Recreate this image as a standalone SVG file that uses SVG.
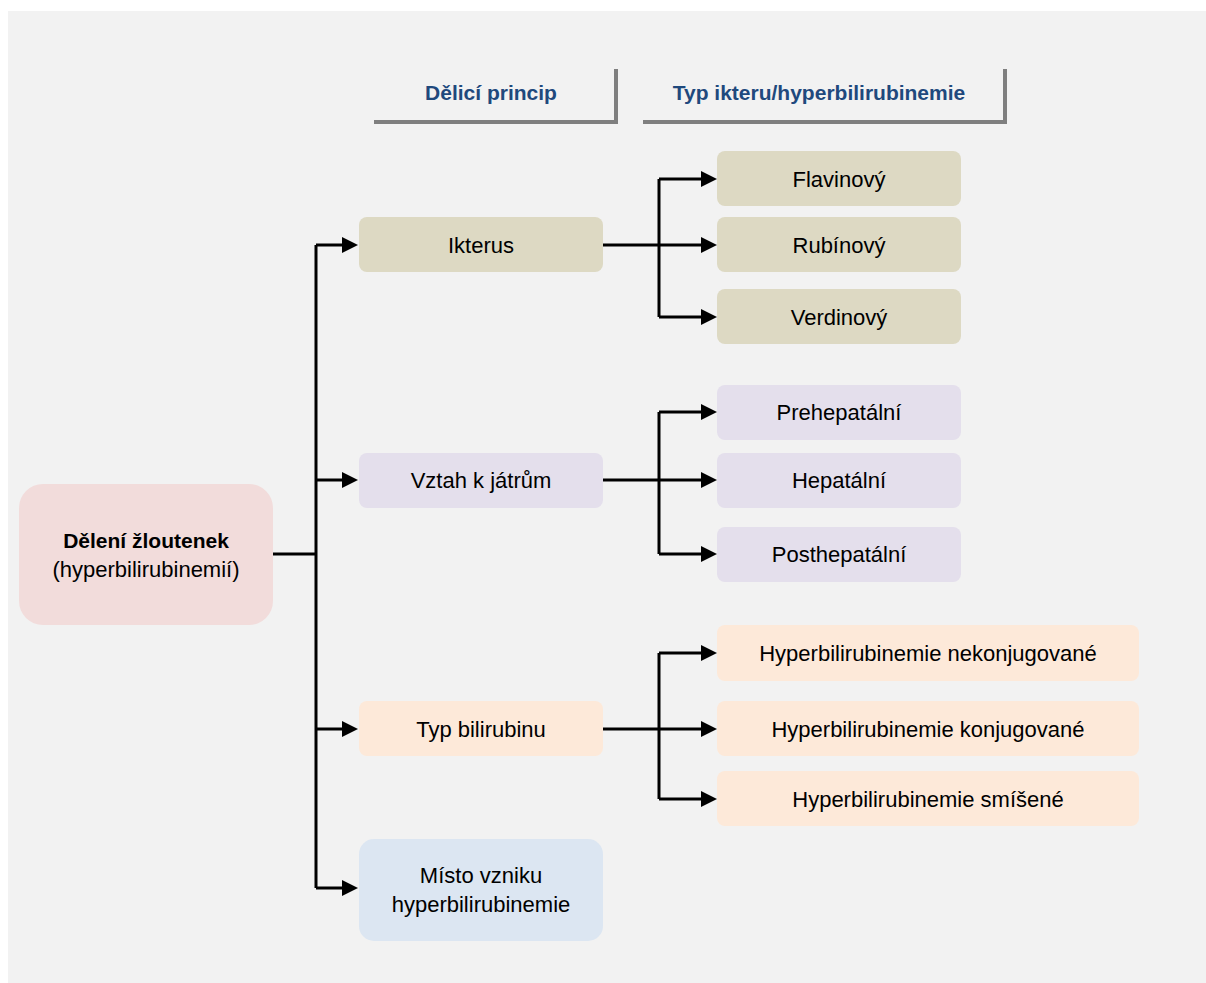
<svg xmlns="http://www.w3.org/2000/svg" width="1206" height="983" viewBox="0 0 1206 983">
<style>
.t{font-family:"Liberation Sans",Arial,sans-serif;font-size:22px;fill:#000;text-anchor:middle}
.b{font-weight:bold;font-size:21px}
.h{font-family:"Liberation Sans",Arial,sans-serif;font-size:21px;font-weight:bold;fill:#1f497d;text-anchor:middle}
.c{fill:none;stroke:#000;stroke-width:3}
.ik{fill:#ddd9c3}.vz{fill:#e4dfec}.ty{fill:#fde9d9}.mi{fill:#dce6f2}.ro{fill:#f2dcdb}
.bar{fill:#7f7f7f}
</style>
<defs>
<marker id="ar" markerUnits="userSpaceOnUse" markerWidth="16" markerHeight="16" refX="1" refY="8" orient="auto">
<path d="M0,0 L16,8 L0,16 z" fill="#000"/>
</marker>
</defs>
<rect x="8" y="11" width="1198" height="972" fill="#f2f2f2"/>
<g id="headers">
<rect class="bar" x="374" y="120" width="244" height="4"/>
<rect class="bar" x="614" y="69" width="4" height="55"/>
<text class="h" x="491" y="100">Dělicí princip</text>
<rect class="bar" x="643" y="120" width="364" height="4"/>
<rect class="bar" x="1003" y="69" width="4" height="55"/>
<text class="h" x="819" y="100">Typ ikteru/hyperbilirubinemie</text>
</g>
<g id="connectors">
<path class="c" d="M273,554 H316"/>
<path class="c" d="M316,245 V888"/>
<path class="c" d="M316,245 H343" marker-end="url(#ar)"/>
<path class="c" d="M316,480 H343" marker-end="url(#ar)"/>
<path class="c" d="M316,729 H343" marker-end="url(#ar)"/>
<path class="c" d="M316,888 H343" marker-end="url(#ar)"/>
<path class="c" d="M603,245 H659"/>
<path class="c" d="M659,179 V317"/>
<path class="c" d="M659,179 H702" marker-end="url(#ar)"/>
<path class="c" d="M659,245 H702" marker-end="url(#ar)"/>
<path class="c" d="M659,317 H702" marker-end="url(#ar)"/>
<path class="c" d="M603,480 H659"/>
<path class="c" d="M659,412 V554"/>
<path class="c" d="M659,412 H702" marker-end="url(#ar)"/>
<path class="c" d="M659,480 H702" marker-end="url(#ar)"/>
<path class="c" d="M659,554 H702" marker-end="url(#ar)"/>
<path class="c" d="M603,729 H659"/>
<path class="c" d="M659,653 V799"/>
<path class="c" d="M659,653 H702" marker-end="url(#ar)"/>
<path class="c" d="M659,729 H702" marker-end="url(#ar)"/>
<path class="c" d="M659,799 H702" marker-end="url(#ar)"/>
</g>
<g id="root">
<rect class="ro" x="19" y="484" width="254" height="141" rx="24"/>
<text class="t b" x="146" y="548">Dělení žloutenek</text>
<text class="t" x="146" y="577">(hyperbilirubinemií)</text>
</g>
<g id="ikterus">
<rect class="ik" x="359" y="217" width="244" height="55" rx="8"/>
<text class="t" x="481" y="253">Ikterus</text>
</g>
<g id="vztah">
<rect class="vz" x="359" y="453" width="244" height="55" rx="8"/>
<text class="t" x="481" y="488">Vztah k játrům</text>
</g>
<g id="typ">
<rect class="ty" x="359" y="701" width="244" height="55" rx="8"/>
<text class="t" x="481" y="737">Typ bilirubinu</text>
</g>
<g id="misto">
<rect class="mi" x="359" y="839" width="244" height="102" rx="15"/>
<text class="t" x="481" y="883">Místo vzniku</text>
<text class="t" x="481" y="912">hyperbilirubinemie</text>
</g>
<g id="flavinovy">
<rect class="ik" x="717" y="151" width="244" height="55" rx="8"/>
<text class="t" x="839" y="187">Flavinový</text>
</g>
<g id="rubinovy">
<rect class="ik" x="717" y="217" width="244" height="55" rx="8"/>
<text class="t" x="839" y="253">Rubínový</text>
</g>
<g id="verdinovy">
<rect class="ik" x="717" y="289" width="244" height="55" rx="8"/>
<text class="t" x="839" y="325">Verdinový</text>
</g>
<g id="prehepatalni">
<rect class="vz" x="717" y="385" width="244" height="55" rx="8"/>
<text class="t" x="839" y="420">Prehepatální</text>
</g>
<g id="hepatalni">
<rect class="vz" x="717" y="453" width="244" height="55" rx="8"/>
<text class="t" x="839" y="488">Hepatální</text>
</g>
<g id="posthepatalni">
<rect class="vz" x="717" y="527" width="244" height="55" rx="8"/>
<text class="t" x="839" y="562">Posthepatální</text>
</g>
<g id="nekonjugovane">
<rect class="ty" x="717" y="625" width="422" height="56" rx="8"/>
<text class="t" x="928" y="661">Hyperbilirubinemie nekonjugované</text>
</g>
<g id="konjugovane">
<rect class="ty" x="717" y="701" width="422" height="55" rx="8"/>
<text class="t" x="928" y="737">Hyperbilirubinemie konjugované</text>
</g>
<g id="smisene">
<rect class="ty" x="717" y="771" width="422" height="55" rx="8"/>
<text class="t" x="928" y="807">Hyperbilirubinemie smíšené</text>
</g>
</svg>
